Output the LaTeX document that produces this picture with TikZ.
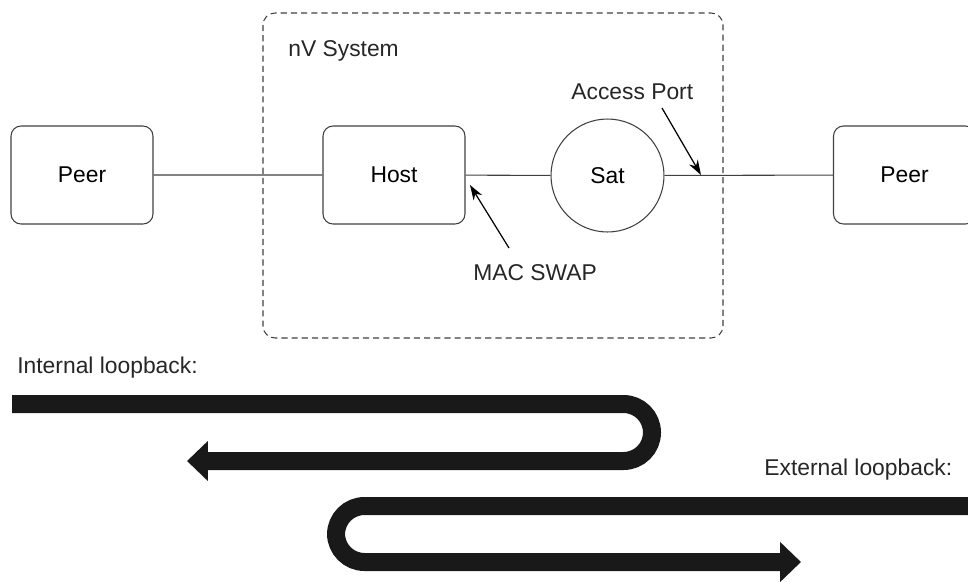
\documentclass[tikz,border=0pt]{standalone}
\usepackage{fontspec}
\setmainfont{Liberation Sans}
\usetikzlibrary{arrows.meta, positioning}

\begin{document}
\begin{tikzpicture}[
                    x=0.02cm, y=-0.02cm,
                    font=\fontsize{13}{15}\selectfont,
                    device/.style={draw=black!75, line width=0.6pt, rounded corners=0.2cm,
                        minimum width=2.84cm, minimum height=1.96cm, inner sep=0pt},
                    satellite/.style={draw=black!75, line width=0.6pt, circle,
                        minimum size=2.26cm, inner sep=0pt},
                    link/.style={draw=black!75, line width=0.6pt},
                    pointer/.style={draw=black, line width=0.7pt, -{Stealth[length=0.3cm, width=0.2cm]}},
                    loopband/.style={draw=black!90, line width=0.36cm, rounded corners=0.57cm,
                        -{Triangle[length=0.42cm, width=0.78cm]}},
                    note/.style={anchor=base west, inner sep=0pt, text=black!85}
                ]
                \useasboundingbox (0,0) rectangle (968,582);

                % nV system frame
                \draw[black!75, line width=0.6pt, dash pattern=on 3.5pt off 2.3pt, rounded corners=0.24cm]
                    (263,13) rectangle (723,338);
                \node[note] (system) at (288,56) {nV System};

                \node[device] (peerL) at (82,175) {Peer};
                \node[device] (host) at (394,175) {Host};
                \node[satellite] (sat) at (607.5,175.5) {Sat};
                \node[device] (peerR) at (904.5,175) {Peer};
                \draw[link] (peerL) -- (host) (host) -- (sat) (sat) -- (peerR);

                \node[note] (portlabel) at (571,99) {Access Port};
                \node[note] (swaplabel) at (473,280) {MAC SWAP};
                \coordinate (porttail) at (662,108);
                \coordinate (port) at (701,175);
                \coordinate (swaptail) at (509,248);
                \coordinate (swap) at (470,185);
                \draw[pointer] (porttail) -- (port);
                \draw[pointer] (swaptail) -- (swap);

                % loopback paths
                \node[note] (internal) at (17,373) {Internal loopback:};
                \draw[loopband] (12,404) -- (652,404) -- (652,461) -- (187,461);
                \node[note] (external) at (764,475) {External loopback:};
                \draw[loopband] (975,506) -- (336,506) -- (336,562) -- (801,562);
            \end{tikzpicture}
\end{document}
